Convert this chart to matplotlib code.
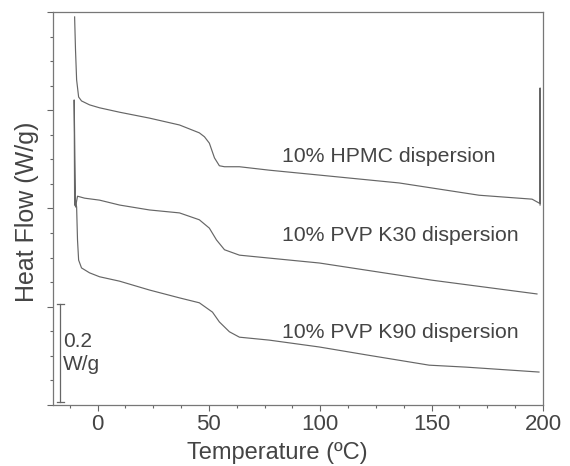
import numpy as np
import matplotlib
matplotlib.use("Agg")
import matplotlib.pyplot as plt
from matplotlib.ticker import MultipleLocator, NullFormatter

plt.rcParams['font.family'] = ['Liberation Sans', 'DejaVu Sans']

# DSC traces (temperature in C, heat flow in W/g, offset per curve)
hpmc_t = [-10.3, -9.9, -9.4, -8.5, -7.2, -3.6, 0.9, 9.9, 23.3, 36.8, 45.7, 48.0,
          50.2, 52.5, 54.7, 57.0, 63.7, 77.1, 99.6, 113.0, 135.4, 171.3, 195.1,
          198.7, 198.7, 198.7]
hpmc_hf = [0.790, 0.723, 0.662, 0.627, 0.619, 0.611, 0.605, 0.596, 0.584, 0.570,
           0.554, 0.546, 0.533, 0.503, 0.487, 0.485, 0.485, 0.478, 0.468, 0.462,
           0.452, 0.427, 0.419, 0.410, 0.645, 0.407]

k30_t = [-10.3, -10.5, -9.9, -9.0, -5.8, 0.9, 9.9, 23.3, 36.8, 45.7, 50.2, 53.4,
         57.0, 63.7, 77.1, 99.6, 150.2, 197.3]
k30_hf = [0.407, 0.621, 0.403, 0.425, 0.421, 0.417, 0.407, 0.397, 0.391, 0.377,
          0.360, 0.336, 0.316, 0.305, 0.299, 0.289, 0.254, 0.226]

k90_t = [-9.9, -9.4, -9.0, -8.5, -7.2, -3.6, 0.9, 9.9, 23.3, 36.8, 45.7, 51.6,
         54.7, 59.2, 63.7, 77.1, 99.6, 120.6, 148.9, 165.5, 198.2]
k90_hf = [0.417, 0.403, 0.336, 0.295, 0.279, 0.269, 0.261, 0.252, 0.234, 0.218,
          0.208, 0.189, 0.169, 0.149, 0.138, 0.132, 0.118, 0.102, 0.081, 0.077,
          0.067]

labels = ["10% HPMC dispersion", "10% PVP K30 dispersion", "10% PVP K90 dispersion"]
label_y = [0.505, 0.344, 0.147]

line_col = "#666666"
text_col = "#444444"

fig = plt.figure(figsize=(5.7, 4.66), dpi=100)
ax = fig.add_axes([0.093, 0.131, 0.8596, 0.8432])

for t, hf in [(hpmc_t, hpmc_hf), (k30_t, k30_hf), (k90_t, k90_hf)]:
    ax.plot(t, hf, color=line_col, lw=0.85)

for lab, y in zip(labels, label_y):
    ax.text(83, y, lab, fontsize=15.3, color=text_col, va='center', ha='left')

# 0.2 W/g scale bar
bar_x = -17.0
ax.plot([bar_x, bar_x], [0.005, 0.205], color=line_col, lw=0.9)
ax.plot([bar_x - 1.0, bar_x + 2.0], [0.205, 0.205], color=line_col, lw=0.9)
ax.plot([bar_x - 1.0, bar_x + 2.0], [0.005, 0.005], color=line_col, lw=0.9)
ax.text(bar_x + 1.5, 0.106, "0.2\nW/g", fontsize=15, color=text_col,
        va='center', ha='left', linespacing=1.25)

ax.set_xlim(-20, 200)
ax.set_ylim(0, 0.8)
ax.xaxis.set_major_locator(MultipleLocator(50))
ax.xaxis.set_minor_locator(MultipleLocator(12.5))
ax.yaxis.set_major_locator(MultipleLocator(0.2))
ax.yaxis.set_minor_locator(MultipleLocator(0.05))
ax.yaxis.set_major_formatter(NullFormatter())

ax.tick_params(axis='both', which='major', direction='out', length=4,
               width=0.8, color=line_col, labelsize=16, labelcolor=text_col)
ax.tick_params(axis='both', which='minor', direction='out', length=2,
               width=0.8, color=line_col)
ax.tick_params(axis='x', pad=2.5)

for s in ax.spines.values():
    s.set_color("#777777")
    s.set_linewidth(0.9)

ax.set_xlabel("Temperature (ºC)", fontsize=17, color=text_col)
ax.set_ylabel("Heat Flow (W/g)", fontsize=18, color=text_col)
ax.xaxis.set_label_coords(0.457, -0.094)
ax.yaxis.label.set_va('center')
ax.yaxis.set_label_coords(-0.053, 0.491)

fig.savefig("out.png", dpi=100)
